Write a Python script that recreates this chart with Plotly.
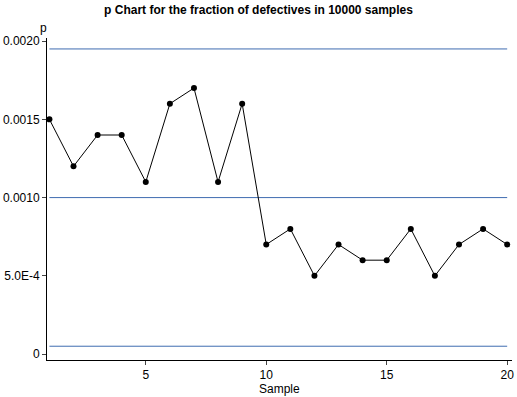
import plotly.graph_objects as go

samples = list(range(1, 21))
p_values = [0.0015, 0.0012, 0.0014, 0.0014, 0.0011, 0.0016, 0.0017, 0.0011, 0.0016, 0.0007,
            0.0008, 0.0005, 0.0007, 0.0006, 0.0006, 0.0008, 0.0005, 0.0007, 0.0008, 0.0007]
ucl = 0.00195
center = 0.0010
lcl = 0.00005
y_tickvals = [0, 0.0005, 0.0010, 0.0015, 0.0020]
y_ticktext = ["0", "5.0E-4", "0.0010", "0.0015", "0.0020"]
x_tickvals = [5, 10, 15, 20]

FONT = "Liberation Sans, Arial, sans-serif"
LINE_COLOR = "#3f6cb0"

fig = go.Figure()
for level in [ucl, center, lcl]:
    fig.add_trace(go.Scatter(x=[samples[0], samples[-1]], y=[level, level], mode="lines",
                             line=dict(color=LINE_COLOR, width=1), hoverinfo="skip", showlegend=False))
fig.add_trace(go.Scatter(x=samples, y=p_values, mode="lines+markers",
                         line=dict(color="black", width=1),
                         marker=dict(color="black", size=6), showlegend=False))

fig.update_layout(
    width=517, height=397,
    margin=dict(l=46, r=3, t=38, b=37),
    paper_bgcolor="white", plot_bgcolor="white",
    font=dict(family=FONT, size=12, color="black"),
    title=dict(text="<b>p Chart for the fraction of defectives in 10000 samples</b>",
               x=0.5, xref="container", xanchor="center", y=0.985, yanchor="top",
               font=dict(size=12, family=FONT, color="black")),
    xaxis=dict(range=[0.9, 20.2], tickvals=x_tickvals, ticks="outside", ticklen=4,
               showline=True, linecolor="black", linewidth=1, showgrid=False, zeroline=False,
               tickfont=dict(size=12)),
    yaxis=dict(range=[-0.000038, 0.00202], tickvals=y_tickvals, ticktext=y_ticktext,
               ticks="outside", ticklen=4, showline=True, linecolor="black", linewidth=1,
               showgrid=False, zeroline=False, tickfont=dict(size=12)),
    annotations=[
        dict(text="p", xref="paper", yref="paper", x=0, y=1, xanchor="right", yanchor="bottom",
             xshift=2, yshift=1, showarrow=False, font=dict(size=12)),
        dict(text="Sample", xref="paper", yref="paper", x=0.5, y=0, xanchor="center", yanchor="top",
             yshift=-20, showarrow=False, font=dict(size=12)),
    ],
)
fig.write_html("out.html", config={"displayModeBar": False},
               post_script="document.body.style.margin='0';document.body.style.overflow='hidden';")
